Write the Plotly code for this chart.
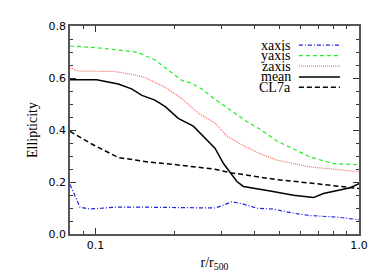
import math
import plotly.graph_objects as go

# ---- data ----
r_y = [0.08, 0.10, 0.137, 0.145, 0.168, 0.195, 0.213, 0.232, 0.253, 0.284, 0.375, 0.421, 0.488, 0.652, 0.80, 1.0]
e_y = [0.723, 0.717, 0.702, 0.698, 0.670, 0.620, 0.590, 0.580, 0.558, 0.518, 0.433, 0.403, 0.358, 0.296, 0.271, 0.266]

r_z = [0.08, 0.0859, 0.1186, 0.137, 0.154, 0.184, 0.213, 0.246, 0.284, 0.315, 0.364, 0.421, 0.488, 0.652, 1.0]
e_z = [0.639, 0.627, 0.625, 0.614, 0.602, 0.564, 0.520, 0.464, 0.427, 0.377, 0.340, 0.309, 0.284, 0.258, 0.240]

r_x = [0.08, 0.0873, 0.0953, 0.1186, 0.159, 0.284, 0.297, 0.329, 0.364, 0.41, 0.473, 0.564, 0.652, 0.824, 1.0]
e_x = [0.190, 0.103, 0.096, 0.103, 0.103, 0.100, 0.106, 0.124, 0.115, 0.099, 0.096, 0.080, 0.071, 0.065, 0.055]

r_mean = [0.08, 0.101, 0.122, 0.137, 0.150, 0.168, 0.184, 0.206, 0.235, 0.284, 0.306, 0.344, 0.364, 0.434, 0.46, 0.564, 0.672, 0.733, 0.926, 1.0]
e_mean = [0.593, 0.593, 0.577, 0.558, 0.533, 0.515, 0.490, 0.445, 0.415, 0.330, 0.271, 0.202, 0.183, 0.171, 0.165, 0.149, 0.140, 0.156, 0.178, 0.194]

r_cl = [0.08, 0.0967, 0.122, 0.159, 0.200, 0.284, 0.324, 0.488, 0.652, 0.926, 1.0]
e_cl = [0.395, 0.346, 0.294, 0.277, 0.267, 0.249, 0.236, 0.209, 0.196, 0.178, 0.175]

names = ["xaxis", "yaxis", "zaxis", "mean", "CL7a"]
colors = ["#2020e0", "#22ee22", "#ff6a5a", "#000000", "#000000"]
dashes = ["4px,2px,1px,2px", "4px,3px", "1px,1px", "solid", "5px,3px"]
widths = [1.2, 1.2, 1.2, 1.5, 1.5]
series = [(r_x, e_x), (r_y, e_y), (r_z, e_z), (r_mean, e_mean), (r_cl, e_cl)]

fig = go.Figure()
for (rr, ee), n, c, d, w in zip(series, names, colors, dashes, widths):
    fig.add_trace(go.Scatter(x=rr, y=ee, mode="lines", name=n,
                             line=dict(color=c, dash=d, width=w), showlegend=False))

# manual legend (text left of line sample)
row_y = [0.908, 0.858, 0.807, 0.755, 0.705]
for n, c, d, w, yy in zip(names, colors, dashes, widths, row_y):
    fig.add_annotation(xref="paper", yref="paper", x=0.767, y=yy, text=n,
                       showarrow=False, xanchor="right", yanchor="middle",
                       borderpad=0,
                       font=dict(family="Liberation Serif", size=14, color="black"))
    fig.add_shape(type="line", xref="paper", yref="paper", x0=0.792, x1=0.934,
                  y0=yy, y1=yy, line=dict(color=c, dash=d, width=w))

axis_common = dict(showline=True, linecolor="#555555", linewidth=1.5, mirror="ticks",
                   ticks="inside", tickcolor="#333333", ticklen=6, tickwidth=1,
                   showgrid=False, zeroline=False,
                   tickfont=dict(family="DejaVu Sans", size=11, color="black"))

fig.update_xaxes(type="log", range=[math.log10(0.08), 0],
                 tickvals=[0.1, 1.0], ticktext=["0.1", "1.0"],
                 minor=dict(tickvals=[0.09, 0.2, 0.3, 0.4, 0.5, 0.6, 0.7, 0.8, 0.9],
                            ticks="inside", ticklen=3, tickcolor="#333333"),
                 title=dict(text="r/r<sub>500</sub>", standoff=6,
                            font=dict(family="Liberation Serif", size=14, color="black")),
                 **axis_common)
fig.update_yaxes(range=[0, 0.8], dtick=0.2, tick0=0, tickformat=".1f",
                 minor=dict(dtick=0.05, ticks="inside", ticklen=3, tickcolor="#333333"),
                 title=dict(text="Ellipticity", standoff=8,
                            font=dict(family="Liberation Serif", size=14, color="black")),
                 **axis_common)

fig.update_layout(width=372, height=272, margin=dict(l=62, r=21, t=14, b=44),
                  paper_bgcolor="white", plot_bgcolor="white")
fig.write_html("out.html")
